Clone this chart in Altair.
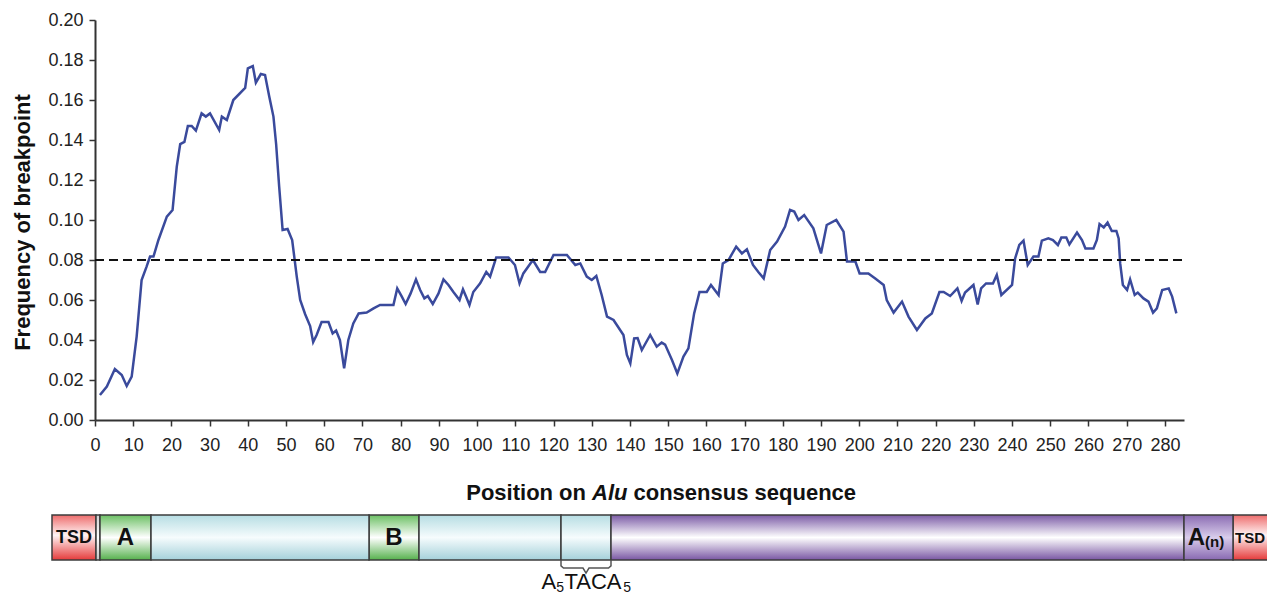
import altair as alt
import pandas as pd

# ---------------- data ----------------
positions = [1.3, 3.1, 5.2, 7.0, 8.3, 9.6, 10.9, 12.2, 13.5, 14.4, 15.3, 16.6, 18.8, 20.3, 21.4, 22.3,
             23.4, 24.3, 25.3, 26.4, 27.9, 29.0, 30.1, 32.5, 33.2, 34.5, 36.2, 39.3, 40.0, 41.3, 42.1,
             43.4, 44.5, 45.6, 46.7, 47.4, 48.2, 49.1, 50.4, 51.6, 52.8, 53.7, 55.0, 56.3, 57.1, 58.0,
             59.3, 61.1, 62.2, 63.1, 64.1, 65.2, 66.3, 67.6, 69.0, 71.1, 72.9, 74.6, 78.1, 79.1, 80.3,
             81.3, 82.6, 84.0, 85.1, 86.2, 87.1, 88.4, 89.9, 91.2, 92.5, 93.8, 95.4, 96.3, 97.1, 98.0,
             99.0, 100.8, 102.4, 103.4, 105.0, 108.2, 109.9, 111.1, 112.1, 114.6, 116.5, 117.8, 120.0,
             123.5, 125.7, 127.0, 128.7, 130.0, 131.2, 132.6, 134.0, 135.7, 138.3, 139.2, 140.1, 141.1,
             142.0, 143.1, 145.3, 147.0, 148.3, 149.2, 151.0, 152.4, 154.0, 155.3, 156.8, 158.2, 160.1,
             161.2, 163.2, 164.3, 165.8, 167.8, 169.3, 170.6, 172.2, 173.6, 175.0, 176.7, 178.5, 180.6,
             181.9, 183.0, 184.1, 185.6, 188.0, 190.0, 191.5, 194.0, 195.9, 196.8, 199.0, 200.1, 202.4,
             204.2, 206.4, 207.2, 209.0, 211.2, 212.9, 215.1, 217.3, 219.0, 221.0, 222.1, 223.8, 225.7,
             226.8, 227.7, 229.9, 231.0, 231.9, 233.2, 235.0, 236.0, 237.2, 240.0, 240.8, 241.9, 243.0,
             244.1, 245.6, 246.9, 247.8, 249.5, 250.7, 252.0, 252.9, 254.2, 255.0, 257.0, 258.3, 259.2,
             261.3, 262.2, 262.9, 264.0, 265.0, 266.1, 267.3, 267.9, 268.3, 269.0, 270.1, 270.9, 272.1,
             272.9, 274.4, 275.7, 276.9, 277.9, 279.3, 281.0, 281.9, 283.0]

frequency = [0.0125, 0.0167, 0.0255, 0.0225, 0.017, 0.0217, 0.0417, 0.070, 0.0767, 0.0817, 0.0817, 0.090,
             0.1017, 0.105, 0.1267, 0.138, 0.139, 0.147, 0.147, 0.1447, 0.1533, 0.1517, 0.1533, 0.145,
             0.1517, 0.150, 0.160, 0.166, 0.1758, 0.177, 0.1687, 0.173, 0.1725, 0.1617, 0.1517, 0.138,
             0.1167, 0.095, 0.0955, 0.090, 0.0717, 0.060, 0.0529, 0.047, 0.039, 0.0425, 0.049, 0.049,
             0.0433, 0.0447, 0.040, 0.0258, 0.040, 0.0483, 0.0533, 0.0537, 0.0558, 0.0575, 0.0575, 0.0658,
             0.0617, 0.058, 0.0633, 0.0703, 0.065, 0.0608, 0.062, 0.058, 0.0633, 0.0703, 0.0675, 0.064,
             0.060, 0.0653, 0.0617, 0.0575, 0.064, 0.0683, 0.074, 0.0717, 0.0813, 0.0813, 0.0775, 0.0683,
             0.0733, 0.080, 0.074, 0.074, 0.0825, 0.0825, 0.0775, 0.0783, 0.0717, 0.070, 0.072, 0.0625,
             0.0517, 0.050, 0.0425, 0.0325, 0.0283, 0.0408, 0.041, 0.035, 0.0425, 0.0367, 0.0387, 0.0377,
             0.030, 0.0233, 0.0317, 0.0358, 0.0533, 0.064, 0.064, 0.0675, 0.0625, 0.0783, 0.080, 0.0867,
             0.0833, 0.0853, 0.0775, 0.074, 0.0708, 0.085, 0.0892, 0.0967, 0.105, 0.1042, 0.100, 0.1025,
             0.0958, 0.0833, 0.0975, 0.100, 0.0942, 0.0792, 0.0792, 0.0733, 0.0733, 0.0708, 0.0675, 0.060,
             0.0537, 0.0592, 0.0517, 0.045, 0.0508, 0.0533, 0.064, 0.064, 0.062, 0.0658, 0.0595, 0.0637,
             0.0675, 0.0578, 0.0658, 0.0683, 0.0683, 0.0725, 0.0625, 0.0675, 0.0808, 0.0875, 0.0897,
             0.0775, 0.0817, 0.0817, 0.0897, 0.0908, 0.090, 0.0875, 0.0912, 0.0912, 0.0878, 0.0937, 0.090,
             0.0858, 0.0858, 0.090, 0.098, 0.0963, 0.0987, 0.0945, 0.0945, 0.0908, 0.0783, 0.0675, 0.065,
             0.0703, 0.0625, 0.0637, 0.0608, 0.0592, 0.0537, 0.0558, 0.065, 0.0658, 0.0617, 0.0533]

threshold = 0.08
x_ticks = list(range(0, 290, 10))
y_ticks = [0.00, 0.02, 0.04, 0.06, 0.08, 0.10, 0.12, 0.14, 0.16, 0.18, 0.20]

# Alu element schematic (diagram units along the bar)
seg_names = ["TSD", "gap", "A", "left1", "B", "left2", "A5TACA5", "right", "An", "TSD2"]
seg_kind = ["tsd", "gap", "box", "blue", "box", "blue", "blue", "purple", "polyA", "tsd"]
seg_start = [0, 44, 48, 99, 317, 367, 509, 559, 1132, 1181]
seg_end = [44, 48, 99, 317, 367, 509, 559, 1132, 1181, 1240]

# bracket under the A5TACA5 segment
brace_x = [509, 509, 511.5, 531, 534, 537, 556.5, 559, 559]
brace_y = [1.0, 1.13, 1.178, 1.178, 1.29, 1.178, 1.178, 1.13, 1.0]

assert len(positions) == len(frequency)

FONT = "Liberation Sans"

df = pd.DataFrame({"pos": positions, "freq": frequency})
thr_df = pd.DataFrame({"x0": [0], "x1": [285], "y": [threshold]})
seg_df = pd.DataFrame({"name": seg_names, "kind": seg_kind, "start": seg_start,
                       "end": seg_end, "top": [0.0] * len(seg_names), "bottom": [1.0] * len(seg_names)})
brace_df = pd.DataFrame({"i": list(range(len(brace_x))), "bx": brace_x, "by": brace_y})

xscale = alt.Scale(domain=[0, 285], nice=False, zero=False)
yscale = alt.Scale(domain=[0, 0.2], nice=False, zero=False)

x_axis = alt.Axis(values=x_ticks, title=None, format="d", labelFlush=False,
                  labelOverlap=False, labelPadding=10, tickCount=29)
y_axis = alt.Axis(values=y_ticks, format=".2f", title="Frequency of breakpoint",
                  labelOverlap=False, tickCount=11,
                  titleFontSize=22, titleFont=FONT, titleFontWeight="bold",
                  titleColor="#111", titleX=-66, titleY=202, titleAngle=-90,
                  titleBaseline="alphabetic", titleAlign="center", labelPadding=6)

line = alt.Chart(df).mark_line(color="#3a4a9c", strokeWidth=2.5).encode(
    x=alt.X("pos:Q", scale=xscale, axis=x_axis),
    y=alt.Y("freq:Q", scale=yscale, axis=y_axis),
)

rule = alt.Chart(thr_df).mark_rule(color="#111", strokeWidth=2, strokeDash=[9, 5]).encode(
    x=alt.X("x0:Q", scale=xscale, axis=None), x2="x1:Q",
    y=alt.Y("y:Q", scale=yscale, axis=None)
)

# schematic scales (independent)
sx = alt.Scale(domain=[0, 1223], range=[-43, 1180], nice=False, zero=False)
sy = alt.Scale(domain=[0, 1], range=[495, 540], nice=False, zero=False)


def grad(top, mid, bottom, midoff=0.5):
    return alt.Gradient(
        gradient="linear",
        stops=[alt.GradientStop(color=top, offset=0),
               alt.GradientStop(color=mid, offset=midoff),
               alt.GradientStop(color=bottom, offset=1)],
        x1=0, x2=0, y1=0, y2=1,
    )


fills = {
    "tsd": grad("#ee6c6c", "#fff4f4", "#e53a3a", 0.45),
    "gap": grad("#cfcfcf", "#ffffff", "#c4c4c4"),
    "box": grad("#6cc064", "#ffffff", "#55b04c"),
    "blue": grad("#b6dde3", "#f6fcfd", "#a4d1da"),
    "purple": grad("#7b5ba6", "#ffffff", "#7956a3"),
    "polyA": grad("#8a6cb3", "#d9cdeb", "#8869b1"),
}

seg_layers = []
for kind, f in fills.items():
    seg_layers.append(
        alt.Chart(seg_df).transform_filter(alt.datum.kind == kind)
        .mark_rect(fill=f, stroke="#3c3c3c", strokeWidth=1.5)
        .encode(x=alt.X("start:Q", scale=sx, axis=None), x2="end:Q",
                y=alt.Y("top:Q", scale=sy, axis=None), y2="bottom:Q")
    )

brace = alt.Chart(brace_df).mark_line(color="#555", strokeWidth=1.5).encode(
    x=alt.X("bx:Q", scale=sx, axis=None), y=alt.Y("by:Q", scale=sy, axis=None),
    order="i:Q")


def label(text, x, y, size, align="center", weight="bold", style="normal", baseline="middle"):
    d = pd.DataFrame({"t": [text], "x": [x], "y": [y]})
    return alt.Chart(d).mark_text(font=FONT, fontSize=size, fontWeight=weight, fontStyle=style,
                                  align=align, baseline=baseline, color="#111").encode(
        x=alt.X("x:Q", scale=sx, axis=None), y=alt.Y("y:Q", scale=sy, axis=None), text="t:N")


labels = [
    label("TSD", 22, 0.52, 18),
    label("A", 73.5, 0.52, 24),
    label("B", 342, 0.52, 24),
    label("A", 1153, 0.52, 24, align="right"),
    label("(n)", 1153, 0.6, 15, align="left"),
    label("TSD", 1183, 0.52, 15, align="left"),
    # A5TACA5 with subscript fives
    label("A", 489.5, 1.64, 22, align="left", weight="normal", baseline="alphabetic"),
    label("5", 504.2, 1.71, 14, align="left", weight="normal", baseline="alphabetic"),
    label("TACA", 512.5, 1.64, 22, align="left", weight="normal", baseline="alphabetic"),
    label("5", 571.2, 1.71, 14, align="left", weight="normal", baseline="alphabetic"),
]


def title_piece(text, x, align, style="normal"):
    d = pd.DataFrame({"t": [text]})
    return alt.Chart(d).mark_text(font=FONT, fontSize=22, fontWeight="bold", fontStyle=style,
                                  align=align, baseline="alphabetic", color="#111").encode(
        x=alt.value(x), y=alt.value(480), text="t:N")


titles = [
    title_piece("Position on", 491, "right"),
    title_piece("Alu", 497, "left", style="italic"),
    title_piece("consensus sequence", 538.5, "left"),
]

chart = alt.layer(line, rule, *seg_layers, brace, *labels, *titles).resolve_scale(
    x="independent", y="independent"
).properties(
    width=1089, height=400,
    autosize=alt.AutoSizeParams(type="none"),
    padding={"left": 87, "top": 12, "right": 83, "bottom": 174},
    background="white",
).configure_view(stroke=None).configure_axis(
    grid=False, domainColor="#333", domainWidth=2, tickColor="#333", tickWidth=1.5,
    tickSize=6, labelFont=FONT, labelFontSize=18, labelColor="#222", labelOverlap=False,
)

chart.save("out.html", embed_options={"renderer": "svg", "actions": False})
